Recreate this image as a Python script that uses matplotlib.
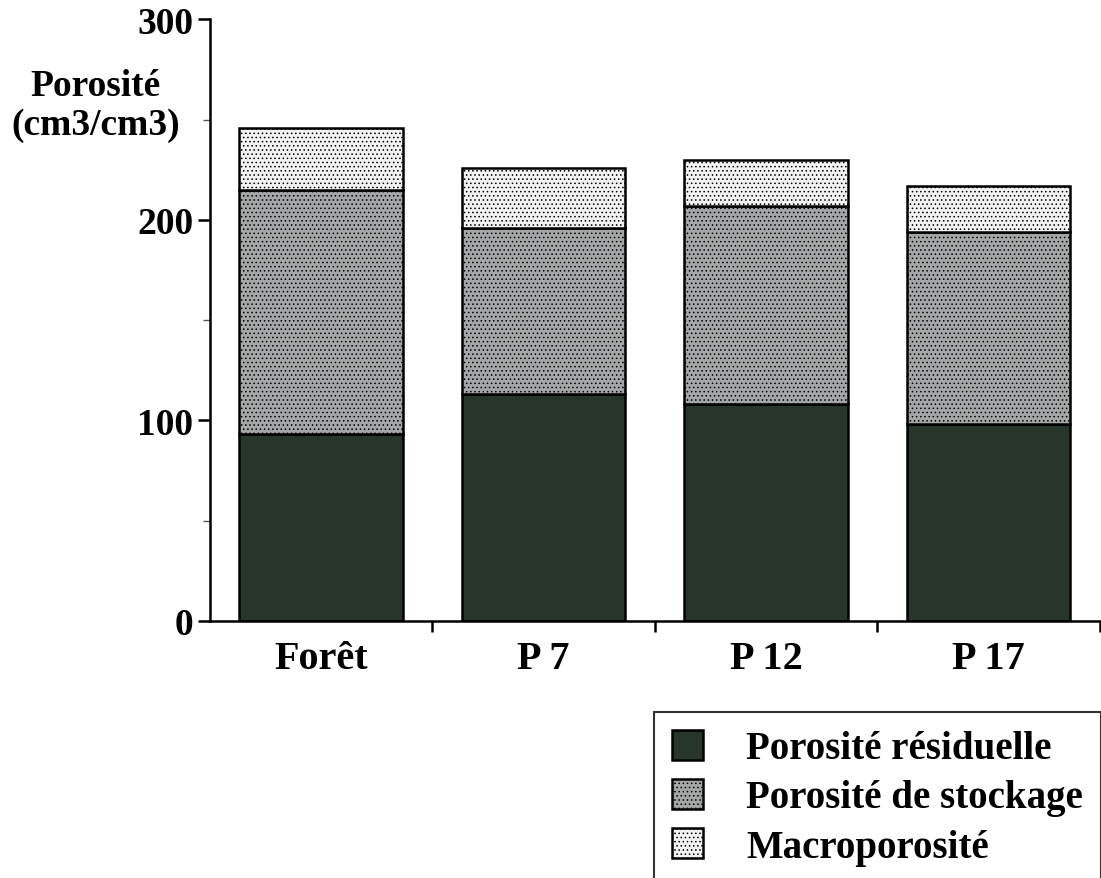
import matplotlib.pyplot as plt
import numpy as np

# values (cm3/cm3 axis, 0-300)
sites = ['Forêt', 'P 7', 'P 12', 'P 17']
residuelle = [93, 113, 108, 98]
stockage = [122, 83, 99, 96]
macro = [31, 30, 23, 23]
labels = ['Porosité résiduelle', 'Porosité de stockage', 'Macroporosité']

plt.rcParams['font.family'] = ['Liberation Serif', 'DejaVu Serif']
plt.rcParams['font.weight'] = 'bold'
plt.rcParams['hatch.color'] = '#8a8a8a'
plt.rcParams['hatch.linewidth'] = 0.6

fig = plt.figure(figsize=(11.01, 8.79), dpi=100)
ax = fig.add_axes([0.1907, 0.2924, 0.8083, 0.6846])

x = np.arange(len(sites))
w = 0.735
b1 = ax.bar(x, residuelle, w, color='#27352a', edgecolor='black', linewidth=1.8)
b2 = ax.bar(x, stockage, w, bottom=residuelle, color='#a4a7a7', edgecolor='black',
            linewidth=1.8, hatch='....')
bot3 = np.array(residuelle) + np.array(stockage)
b3 = ax.bar(x, macro, w, bottom=bot3, color='#f2f2f2', edgecolor='black',
            linewidth=1.8, hatch='....')

ax.set_xlim(-0.5, 3.5)
ax.set_ylim(0, 300)
ax.spines[['top', 'right']].set_visible(False)
ax.spines[['left', 'bottom']].set_linewidth(1.8)

ax.set_yticks([0, 100, 200, 300])
ax.set_yticks(np.arange(0, 300, 50), minor=True)
ax.tick_params(axis='y', which='major', length=9, width=1.8, pad=3, labelsize=27)
ax.tick_params(axis='y', which='minor', length=5, width=1, color='#555555')

ax.set_xticks([0.5, 1.5, 2.5, 3.5])
ax.set_xticklabels([])
ax.set_xticks(x, minor=True)
ax.set_xticklabels(sites, minor=True)
ax.tick_params(axis='x', which='major', length=8, width=1.8)
ax.tick_params(axis='x', which='minor', length=0, pad=14, labelsize=29)

fig.text(0.087, 0.879, 'Porosité\n(cm3/cm3)', ha='center', va='center',
         fontsize=27, fontweight='bold', linespacing=1.15)

leg = fig.legend([b1, b2, b3], labels, loc='upper left',
                 bbox_to_anchor=(654 / 1101, 1 - 713 / 879), borderaxespad=0,
                 fontsize=28, frameon=True, fancybox=False, edgecolor='black',
                 handlelength=0.82, handleheight=0.82, handletextpad=1.1,
                 borderpad=0.45, labelspacing=0.3)
leg.get_frame().set_linewidth(1.5)

fig.savefig('out.png', dpi=100)
